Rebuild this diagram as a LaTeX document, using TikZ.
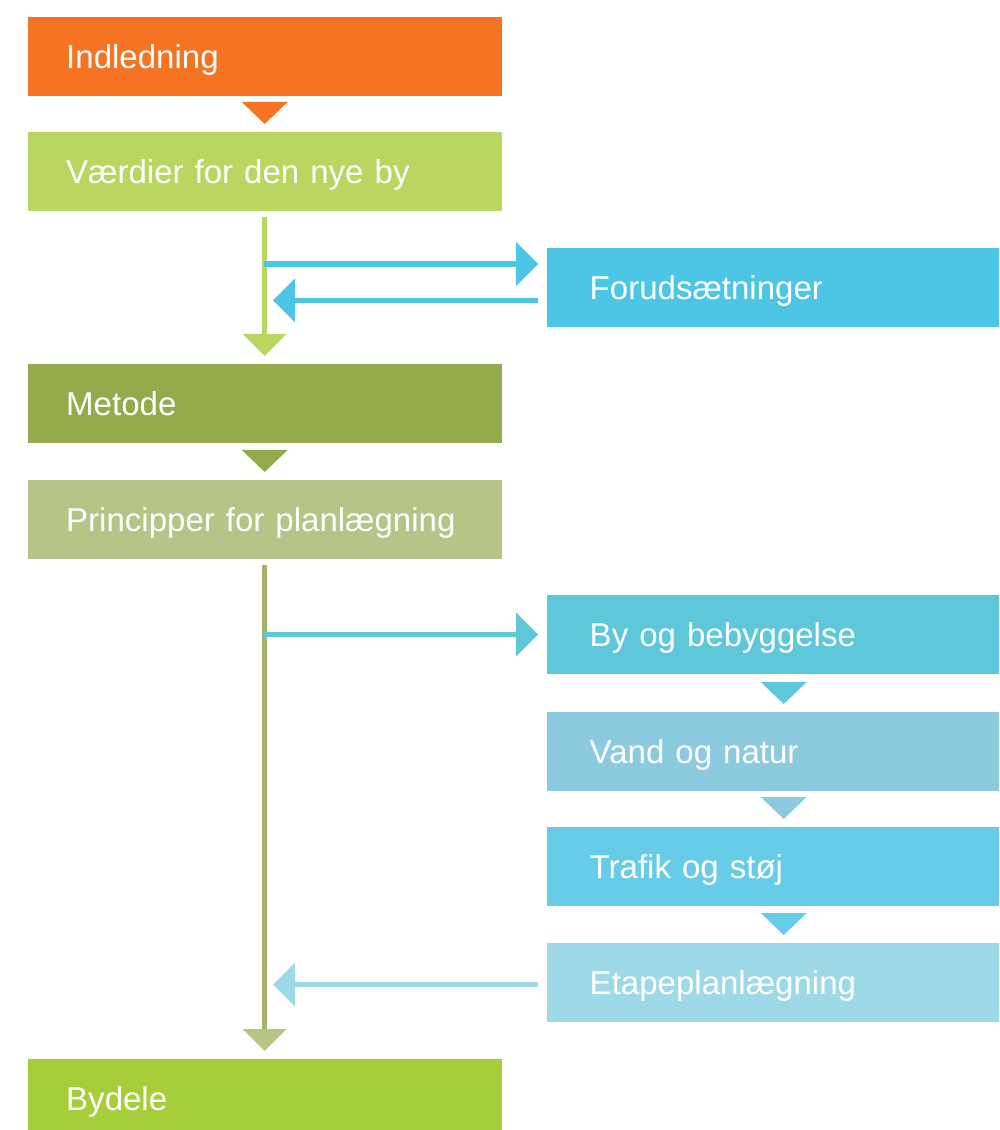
\documentclass[tikz,border=0pt]{standalone}
\usepackage{fontspec}
\setmainfont{Liberation Sans}
\usetikzlibrary{arrows.meta,calc}
\definecolor{cIntro}{HTML}{F47424}
\definecolor{cValue}{HTML}{B9D660}
\definecolor{cMethod}{HTML}{94AB4B}
\definecolor{cPrinc}{HTML}{B6C487}
\definecolor{cLine}{HTML}{A5B46A}
\definecolor{cBydele}{HTML}{A6CE39}
\definecolor{cForud}{HTML}{4DC6E6}
\definecolor{cBy}{HTML}{5FC7DA}
\definecolor{cVand}{HTML}{8CCADF}
\definecolor{cTrafik}{HTML}{66CCE8}
\definecolor{cEtape}{HTML}{9DD9E6}
\begin{document}
\begin{tikzpicture}[
  every node/.style={font=\fontsize{9.4}{11}\selectfont, text=white},
  lbox/.style={fill=#1, anchor=north west, minimum height=0.79cm, inner ysep=0pt, inner xsep=0.385cm, text width=3.97cm, align=left, text height=0.72em, text depth=0pt},
  rbox/.style={lbox=#1, inner xsep=0.43cm, text width=3.88cm},
  arr/.style={-{Triangle[width=0.44cm, length=0.22cm, line width=0pt, color=#1]}},
  flow/.style={line width=0.055cm, draw=#1, arr=#1}
]
\clip (0,0) rectangle (9.99,-11.30);
% left column
\node[lbox=cIntro] (intro) at (0.27,-0.16) {Indledning};
\node[lbox=cValue] (value) at (0.27,-1.31) {Værdier for den nye by};
\node[lbox=cMethod] (method) at (0.27,-3.63) {Metode};
\node[lbox=cPrinc] (princ) at (0.27,-4.79) {Principper for planlægning};
\node[lbox=cBydele] (bydele) at (0.27,-10.58) {Bydele};
% right column
\node[rbox=cForud] (forud) at (5.46,-2.47) {Forudsætninger};
\node[rbox=cBy] (by) at (5.46,-5.94) {By og bebyggelse};
\node[rbox=cVand] (vand) at (5.46,-7.11) {Vand og natur};
\node[rbox=cTrafik] (trafik) at (5.46,-8.26) {Trafik og støj};
\node[rbox=cEtape] (etape) at (5.46,-9.42) {Etapeplanlægning};
% small drop arrows
\foreach \n/\c in {value/cIntro, princ/cMethod, vand/cBy, trafik/cVand, etape/cTrafik}
  \fill[\c] ($(\n.north)+(-0.23,0.29)$) -- ++(0.46,0) -- ($(\n.north)+(0,0.07)$) -- cycle;
% main lines
\draw[flow=cValue] ([yshift=-0.06cm]value.south) -- ([yshift=0.07cm]method.north);
\draw[line width=0.055cm, draw=cLine, arr=cPrinc] ([yshift=-0.06cm]princ.south) -- ([yshift=0.07cm]bydele.north);
% side arrows
\coordinate (out1) at (2.64,-2.64);
\coordinate (in1) at (2.73,-3.005);
\draw[flow=cForud, shorten >=0.08cm] (out1) -- (out1 -| forud.west);
\draw[flow=cForud, shorten <=0.08cm] (in1 -| forud.west) -- (in1);
\coordinate (out2) at (2.64,-6.345);
\draw[flow=cBy, shorten >=0.08cm] (out2) -- (out2 -| by.west);
\coordinate (in2) at (2.73,-9.845);
\draw[flow=cEtape, shorten <=0.08cm] (in2 -| etape.west) -- (in2);
\end{tikzpicture}
\end{document}
